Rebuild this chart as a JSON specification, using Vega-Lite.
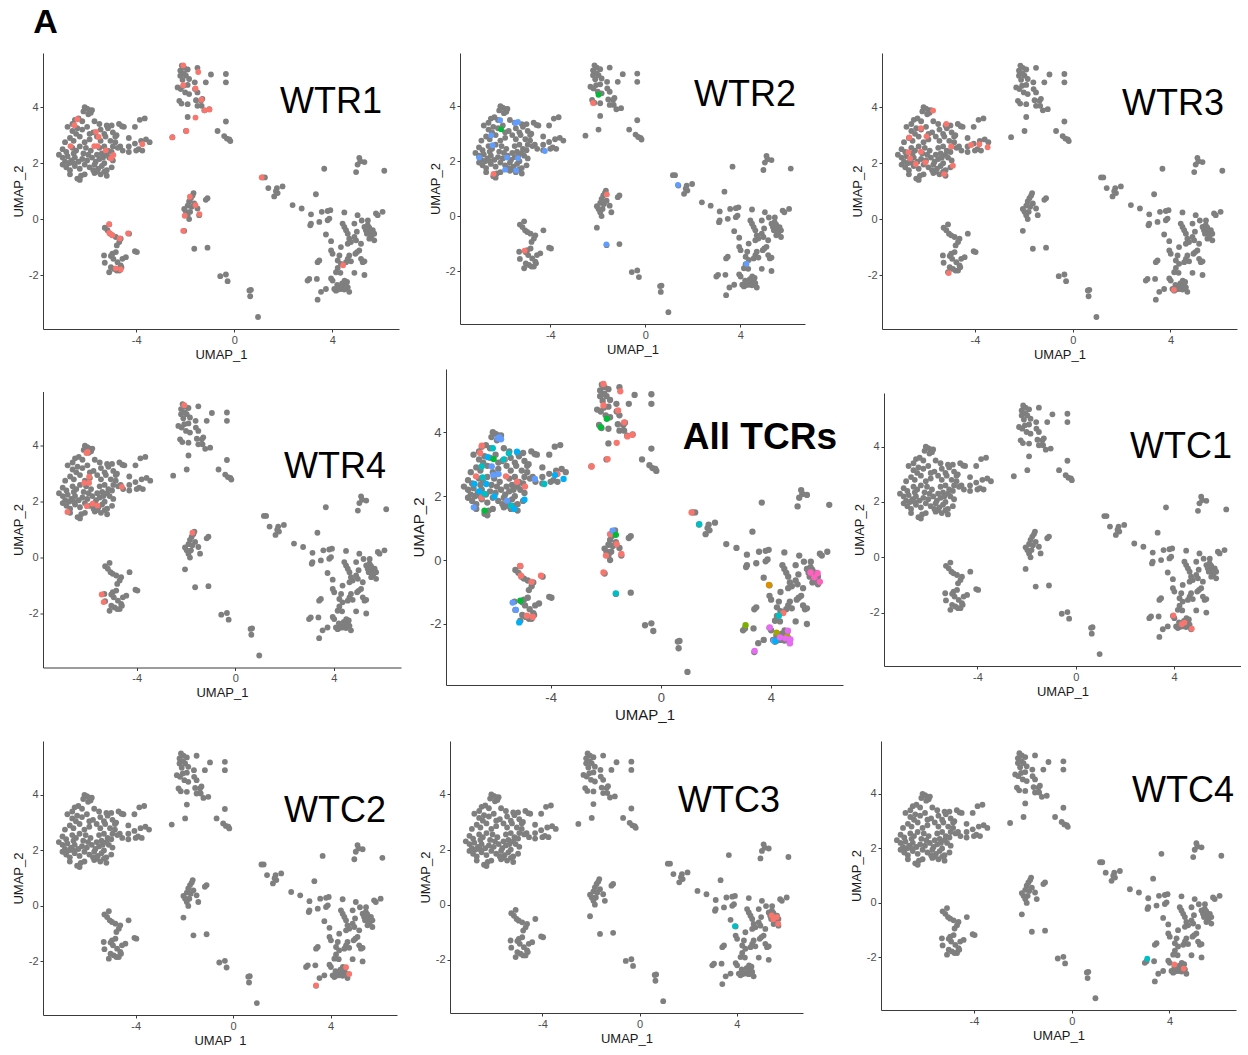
{
"$schema":"https://vega.github.io/schema/vega-lite/v6.json",
"background":"white",
"padding":{"left":12,"top":6,"right":0,"bottom":0},
"title":{"text":"A","anchor":"start","fontSize":34,"fontWeight":"bold","font":"Liberation Sans","offset":13,"dx":21,"color":"#000"},
"config":{"view":{"stroke":null},"axis":{"grid":false,"domainColor":"#3a3a3a","domainWidth":1,"tickColor":"#3a3a3a","tickSize":3,"labelFont":"Liberation Sans","labelFontSize":11,"labelColor":"#4d4d4d","titleFont":"Liberation Sans","titleFontSize":13,"titleFontWeight":"normal","titleColor":"#1a1a1a","labelPadding":2,"titlePadding":3}},
"datasets":{
"cells":[
{"x":-2.14,"y":5.49},{"x":-2.04,"y":5.41},{"x":-2.2,"y":5.31},{"x":-1.9,"y":5.35},{"x":-1.5,"y":5.41},{"x":-0.95,"y":5.17},{"x":-0.34,"y":5.19},{"x":-0.34,"y":4.89},{"x":-2.2,"y":5.13},{"x":-1.97,"y":5.13},{"x":-2.11,"y":4.98},{"x":-1.84,"y":5.01},{"x":-1.61,"y":4.89},{"x":-1.16,"y":4.89},{"x":-2.07,"y":4.77},{"x":-1.9,"y":4.8},{"x":-2.31,"y":4.71},{"x":-2.18,"y":4.65},{"x":-2.0,"y":4.53},{"x":-1.84,"y":4.47},{"x":-1.5,"y":4.53},{"x":-2.24,"y":4.23},{"x":-2.15,"y":4.13},{"x":-1.9,"y":4.11},{"x":-1.56,"y":4.25},{"x":-1.36,"y":4.23},{"x":-1.33,"y":4.05},{"x":-1.5,"y":4.05},{"x":-1.22,"y":3.89},{"x":-1.02,"y":3.93},{"x":-1.9,"y":3.65},{"x":-1.97,"y":3.15},{"x":-2.52,"y":2.93},{"x":-0.68,"y":3.15},{"x":-0.34,"y":3.49},{"x":-0.41,"y":2.97},{"x":-0.3,"y":2.88},{"x":-0.2,"y":2.85},{"x":-0.16,"y":2.79},{"x":-1.6,"y":4.65},{"x":-1.3,"y":4.3},{"x":-2.05,"y":5.2},
{"x":-1.66,"y":0.93},{"x":-1.7,"y":0.84},{"x":-1.77,"y":0.75},{"x":-1.84,"y":0.63},{"x":-1.63,"y":0.56},{"x":-1.9,"y":0.48},{"x":-1.74,"y":0.44},{"x":-2.04,"y":0.36},{"x":-1.97,"y":0.26},{"x":-1.8,"y":0.26},{"x":-1.5,"y":0.38},{"x":-1.9,"y":0.14},{"x":-1.84,"y":0.0},{"x":-1.43,"y":0.14},{"x":-1.09,"y":0.75},{"x":-1.16,"y":0.69},{"x":-2.04,"y":-0.42},{"x":-1.63,"y":-1.06},{"x":-1.09,"y":-1.02},
{"x":-5.28,"y":-0.31},{"x":-5.1,"y":-0.19},{"x":-5.17,"y":-0.4},{"x":-5.06,"y":-0.52},{"x":-4.97,"y":-0.58},{"x":-4.83,"y":-0.64},{"x":-4.63,"y":-0.7},{"x":-4.69,"y":-0.82},{"x":-4.29,"y":-0.52},{"x":-4.79,"y":-0.94},{"x":-4.83,"y":-1.18},{"x":-4.97,"y":-1.24},{"x":-5.03,"y":-1.32},{"x":-5.31,"y":-1.3},{"x":-5.28,"y":-1.56},{"x":-4.93,"y":-1.42},{"x":-4.76,"y":-1.54},{"x":-4.56,"y":-1.42},{"x":-4.42,"y":-1.36},{"x":-4.63,"y":-1.66},{"x":-5.03,"y":-1.72},{"x":-5.1,"y":-1.9},{"x":-4.9,"y":-1.78},{"x":-4.79,"y":-1.84},{"x":-4.69,"y":-1.84},{"x":-4.6,"y":-1.72},{"x":-4.05,"y":-1.15},{"x":-3.97,"y":-1.18},
{"x":-0.57,"y":-2.04},{"x":-0.34,"y":-1.98},{"x":-0.27,"y":-2.22},{"x":0.68,"y":-2.53},{"x":0.62,"y":-2.55},{"x":0.65,"y":-2.76},{"x":0.97,"y":-3.5},
{"x":1.16,"y":1.49},{"x":1.25,"y":1.49},{"x":1.39,"y":1.11},{"x":1.63,"y":0.81},{"x":1.77,"y":0.93},{"x":1.74,"y":1.11},{"x":1.97,"y":1.17},{"x":2.38,"y":0.5},{"x":2.75,"y":0.38},{"x":1.7,"y":1.0},
{"x":3.33,"y":0.89},{"x":3.67,"y":1.8},{"x":5.1,"y":2.19},{"x":5.14,"y":2.07},{"x":5.03,"y":1.95},{"x":5.31,"y":2.04},{"x":4.97,"y":1.68},{"x":6.12,"y":1.73},
{"x":3.13,"y":0.17},{"x":3.1,"y":-0.22},{"x":3.13,"y":-0.16},{"x":3.47,"y":-0.1},{"x":3.57,"y":0.26},{"x":3.81,"y":0.29},{"x":3.92,"y":0.32},{"x":3.81,"y":-0.04},{"x":3.88,"y":0.02},{"x":3.74,"y":-0.55},{"x":3.95,"y":-0.79},{"x":4.49,"y":0.24},{"x":5.03,"y":0.14},{"x":5.78,"y":0.2},{"x":5.85,"y":0.14},{"x":6.05,"y":0.26},
{"x":4.42,"y":-0.16},{"x":4.49,"y":-0.28},{"x":4.56,"y":-0.4},{"x":4.63,"y":-0.52},{"x":4.9,"y":-0.16},{"x":4.69,"y":-0.7},{"x":4.76,"y":-0.82},{"x":4.63,"y":-0.88},{"x":4.9,"y":-0.64},{"x":4.97,"y":-0.76},{"x":5.17,"y":-0.88},
{"x":5.31,"y":-0.28},{"x":5.37,"y":-0.4},{"x":5.44,"y":-0.22},{"x":5.51,"y":-0.34},{"x":5.58,"y":-0.46},{"x":5.65,"y":-0.4},{"x":5.71,"y":-0.52},{"x":5.55,"y":-0.55},{"x":5.41,"y":-0.52},{"x":5.71,"y":-0.76},
{"x":5.1,"y":-1.12},{"x":5.01,"y":-1.18},{"x":4.94,"y":-1.24},{"x":4.69,"y":-1.3},{"x":4.63,"y":-1.42},{"x":4.56,"y":-1.54},{"x":4.76,"y":-1.51},{"x":5.17,"y":-1.42},{"x":5.24,"y":-1.54},{"x":5.31,"y":-1.51},
{"x":4.29,"y":-1.3},{"x":4.22,"y":-1.48},{"x":4.35,"y":-1.6},{"x":4.22,"y":-1.75},{"x":4.15,"y":-1.9},{"x":4.33,"y":-1.92},{"x":3.47,"y":-1.48},{"x":3.4,"y":-1.54},{"x":3.06,"y":-2.14},{"x":2.99,"y":-2.2},{"x":3.37,"y":-2.14},{"x":3.95,"y":-2.12},{"x":4.01,"y":-2.2},
{"x":4.08,"y":-2.5},{"x":4.15,"y":-2.56},{"x":4.22,"y":-2.52},{"x":4.29,"y":-2.48},{"x":4.35,"y":-2.5},{"x":4.42,"y":-2.44},{"x":4.49,"y":-2.52},{"x":4.56,"y":-2.38},{"x":4.63,"y":-2.44},{"x":4.69,"y":-2.6},{"x":4.9,"y":-1.92},{"x":5.31,"y":-2.0},{"x":3.54,"y":-2.6},{"x":3.74,"y":-2.5},{"x":3.4,"y":-2.88},{"x":3.95,"y":-1.12},{"x":4.01,"y":-1.24},{"x":4.35,"y":-1.0},{"x":5.51,"y":-0.7},{"x":5.6,"y":-0.6},{"x":5.5,"y":-0.3},
{"x":4.4,"y":-2.3},{"x":4.5,"y":-2.2},{"x":4.6,"y":-2.25},{"x":4.2,"y":-2.35},{"x":5.0,"y":-0.45},{"x":5.2,"y":-0.05},{"x":5.45,"y":-0.05},
{"x":-6.1,"y":4.0},{"x":-6.0,"y":3.95},{"x":-5.9,"y":3.9},{"x":-5.85,"y":3.8},{"x":-6.15,"y":3.85},{"x":-5.95,"y":3.75},{"x":-5.8,"y":3.9},
{"x":-6.5,"y":3.55},{"x":-6.35,"y":3.6},{"x":-6.2,"y":3.5},{"x":-6.6,"y":3.4},{"x":-5.7,"y":3.5},{"x":-5.5,"y":3.4},{"x":-5.2,"y":3.35},{"x":-5.0,"y":3.35},{"x":-4.7,"y":3.4},{"x":-4.5,"y":3.3},{"x":-4.58,"y":3.32},
{"x":-6.8,"y":3.3},{"x":-6.6,"y":3.15},{"x":-6.4,"y":3.25},{"x":-6.2,"y":3.2},{"x":-6.0,"y":3.3},{"x":-5.75,"y":3.1},{"x":-5.45,"y":3.2},{"x":-5.3,"y":3.05},{"x":-5.15,"y":3.25},{"x":-4.95,"y":3.1},{"x":-4.8,"y":3.0},{"x":-4.3,"y":2.9},{"x":-4.05,"y":3.3},{"x":-3.85,"y":3.55},{"x":-3.65,"y":3.6},
{"x":-6.9,"y":2.75},{"x":-6.7,"y":2.9},{"x":-6.55,"y":2.8},{"x":-6.3,"y":2.95},{"x":-6.1,"y":2.75},{"x":-5.9,"y":2.85},{"x":-5.6,"y":2.95},{"x":-5.45,"y":2.8},{"x":-5.25,"y":2.95},{"x":-5.05,"y":2.8},{"x":-4.85,"y":2.75},{"x":-4.65,"y":2.6},{"x":-4.3,"y":2.6},{"x":-4.05,"y":2.7},{"x":-3.8,"y":2.8},{"x":-3.6,"y":2.85},{"x":-3.45,"y":2.75},{"x":-3.9,"y":2.5},
{"x":-7.0,"y":2.5},{"x":-6.85,"y":2.4},{"x":-6.6,"y":2.55},{"x":-6.45,"y":2.45},{"x":-6.3,"y":2.6},{"x":-6.05,"y":2.55},{"x":-5.85,"y":2.45},{"x":-5.5,"y":2.55},{"x":-5.3,"y":2.6},{"x":-5.15,"y":2.45},{"x":-4.95,"y":2.6},{"x":-4.75,"y":2.55},{"x":-4.55,"y":2.45},{"x":-4.3,"y":2.4},{"x":-4.0,"y":2.45},{"x":-3.75,"y":2.45},
{"x":-7.15,"y":2.3},{"x":-7.0,"y":2.2},{"x":-6.8,"y":2.25},{"x":-6.65,"y":2.1},{"x":-6.5,"y":2.2},{"x":-6.35,"y":2.05},{"x":-6.2,"y":2.15},{"x":-6.0,"y":2.1},{"x":-5.8,"y":2.2},{"x":-5.65,"y":2.05},{"x":-5.5,"y":2.15},{"x":-5.3,"y":2.0},{"x":-5.1,"y":2.2},{"x":-4.95,"y":2.1},{"x":-5.2,"y":2.3},
{"x":-7.0,"y":1.95},{"x":-6.85,"y":1.85},{"x":-6.7,"y":1.75},{"x":-6.5,"y":1.9},{"x":-6.3,"y":1.8},{"x":-6.1,"y":1.95},{"x":-5.9,"y":1.85},{"x":-5.7,"y":1.95},{"x":-5.55,"y":1.8},{"x":-5.4,"y":1.9},{"x":-5.2,"y":1.75},{"x":-5.0,"y":1.85},{"x":-5.3,"y":1.7},{"x":-5.6,"y":1.7},
{"x":-6.7,"y":1.6},{"x":-6.4,"y":1.45},{"x":-6.25,"y":1.55},{"x":-6.1,"y":1.6},{"x":-5.7,"y":1.65},{"x":-5.45,"y":1.6},{"x":-5.2,"y":1.55},{"x":-6.3,"y":1.4},
{"x":-6.9,"y":2.05},{"x":-6.75,"y":2.0},{"x":-6.55,"y":2.35},{"x":-6.15,"y":2.35},{"x":-5.95,"y":2.3},{"x":-5.6,"y":2.3},{"x":-5.4,"y":2.35},{"x":-5.0,"y":2.4},{"x":-4.85,"y":2.95},{"x":-5.9,"y":3.05},{"x":-6.45,"y":3.05},{"x":-5.35,"y":2.2},{"x":-6.55,"y":2.0},{"x":-5.75,"y":1.75}
],
"tcr":[
{"p":"WTR1","x":-2.08,"y":5.5,"c":"c1"},{"p":"WTR1","x":-1.47,"y":5.26,"c":"c1"},{"p":"WTR1","x":-2.08,"y":4.79,"c":"c1"},{"p":"WTR1","x":-1.58,"y":4.67,"c":"c1"},{"p":"WTR1","x":-1.34,"y":4.27,"c":"c1"},{"p":"WTR1","x":-1.2,"y":3.89,"c":"c1"},{"p":"WTR1","x":-1.01,"y":3.92,"c":"c1"},{"p":"WTR1","x":-1.58,"y":3.63,"c":"c1"},{"p":"WTR1","x":-1.95,"y":3.15,"c":"c1"},{"p":"WTR1","x":-2.53,"y":2.92,"c":"c1"},{"p":"WTR1","x":-6.52,"y":3.36,"c":"c1"},{"p":"WTR1","x":-6.4,"y":3.57,"c":"c1"},{"p":"WTR1","x":-5.64,"y":3.12,"c":"c1"},{"p":"WTR1","x":-5.53,"y":2.94,"c":"c1"},{"p":"WTR1","x":-6.68,"y":2.61,"c":"c1"},{"p":"WTR1","x":-5.71,"y":2.61,"c":"c1"},{"p":"WTR1","x":-5.58,"y":2.61,"c":"c1"},{"p":"WTR1","x":-5.24,"y":2.46,"c":"c1"},{"p":"WTR1","x":-4.93,"y":2.29,"c":"c1"},{"p":"WTR1","x":-5.03,"y":2.17,"c":"c1"},{"p":"WTR1","x":-3.75,"y":2.68,"c":"c1"},{"p":"WTR1","x":1.12,"y":1.49,"c":"c1"},{"p":"WTR1","x":-1.81,"y":0.8,"c":"c1"},{"p":"WTR1","x":-1.58,"y":0.5,"c":"c1"},{"p":"WTR1","x":-2.02,"y":0.12,"c":"c1"},{"p":"WTR1","x":-1.42,"y":0.18,"c":"c1"},{"p":"WTR1","x":-2.08,"y":-0.42,"c":"c1"},{"p":"WTR1","x":-5.1,"y":-0.18,"c":"c1"},{"p":"WTR1","x":-5.1,"y":-0.49,"c":"c1"},{"p":"WTR1","x":-4.97,"y":-0.57,"c":"c1"},{"p":"WTR1","x":-4.67,"y":-0.69,"c":"c1"},{"p":"WTR1","x":-4.33,"y":-0.51,"c":"c1"},{"p":"WTR1","x":-4.83,"y":-1.76,"c":"c1"},{"p":"WTR1","x":-4.63,"y":-1.8,"c":"c1"},{"p":"WTR1","x":4.44,"y":-1.65,"c":"c1"},
{"p":"WTR2","x":-6.11,"y":3.49,"c":"c8"},{"p":"WTR2","x":-6.49,"y":2.94,"c":"c8"},{"p":"WTR2","x":-6.43,"y":2.58,"c":"c8"},{"p":"WTR2","x":-7.0,"y":2.13,"c":"c8"},{"p":"WTR2","x":-5.47,"y":3.39,"c":"c8"},{"p":"WTR2","x":-5.36,"y":3.43,"c":"c8"},{"p":"WTR2","x":-5.9,"y":1.69,"c":"c8"},{"p":"WTR2","x":-5.82,"y":2.13,"c":"c8"},{"p":"WTR2","x":-5.36,"y":2.11,"c":"c8"},{"p":"WTR2","x":-5.44,"y":1.66,"c":"c8"},{"p":"WTR2","x":-4.23,"y":2.37,"c":"c8"},{"p":"WTR2","x":1.37,"y":1.14,"c":"c8"},{"p":"WTR2","x":-1.64,"y":-1.03,"c":"c8"},{"p":"WTR2","x":4.26,"y":-1.74,"c":"c8"},{"p":"WTR2","x":-6.07,"y":3.16,"c":"c5"},{"p":"WTR2","x":-1.97,"y":4.42,"c":"c5"},{"p":"WTR2","x":-6.39,"y":1.54,"c":"c1"},{"p":"WTR2","x":-2.2,"y":4.12,"c":"c1"},{"p":"WTR2","x":-1.62,"y":0.79,"c":"c1"},{"p":"WTR2","x":-5.08,"y":-1.26,"c":"c1"},
{"p":"WTR3","x":-5.71,"y":3.88,"c":"c1"},{"p":"WTR3","x":-5.17,"y":3.4,"c":"c1"},{"p":"WTR3","x":-6.21,"y":3.25,"c":"c1"},{"p":"WTR3","x":-6.68,"y":2.92,"c":"c1"},{"p":"WTR3","x":-5.98,"y":2.96,"c":"c1"},{"p":"WTR3","x":-6.72,"y":2.39,"c":"c1"},{"p":"WTR3","x":-6.65,"y":2.17,"c":"c1"},{"p":"WTR3","x":-6.21,"y":2.41,"c":"c1"},{"p":"WTR3","x":-6.42,"y":1.97,"c":"c1"},{"p":"WTR3","x":-6.02,"y":2.03,"c":"c1"},{"p":"WTR3","x":-4.97,"y":2.6,"c":"c1"},{"p":"WTR3","x":-4.9,"y":1.91,"c":"c1"},{"p":"WTR3","x":-5.26,"y":1.61,"c":"c1"},{"p":"WTR3","x":-4.16,"y":2.65,"c":"c1"},{"p":"WTR3","x":-3.82,"y":2.68,"c":"c1"},{"p":"WTR3","x":-3.48,"y":2.57,"c":"c1"},{"p":"WTR3","x":-5.07,"y":-1.93,"c":"c1"},{"p":"WTR3","x":4.14,"y":-2.53,"c":"c1"},
{"p":"WTR4","x":-5.99,"y":3.78,"c":"c1"},{"p":"WTR4","x":-6.04,"y":3.74,"c":"c1"},{"p":"WTR4","x":-5.93,"y":2.89,"c":"c1"},{"p":"WTR4","x":-6.13,"y":2.67,"c":"c1"},{"p":"WTR4","x":-5.93,"y":2.67,"c":"c1"},{"p":"WTR4","x":-4.6,"y":2.53,"c":"c1"},{"p":"WTR4","x":-6.81,"y":1.63,"c":"c1"},{"p":"WTR4","x":-6.02,"y":1.84,"c":"c1"},{"p":"WTR4","x":-5.79,"y":1.93,"c":"c1"},{"p":"WTR4","x":-5.59,"y":1.86,"c":"c1"},{"p":"WTR4","x":-1.74,"y":0.89,"c":"c1"},{"p":"WTR4","x":-2.07,"y":5.45,"c":"c1"},{"p":"WTR4","x":-5.42,"y":-1.32,"c":"c1"},{"p":"WTR4","x":-5.34,"y":-1.59,"c":"c1"},
{"p":"WTC1","x":3.97,"y":-2.1,"c":"c1"},{"p":"WTC1","x":4.31,"y":-2.42,"c":"c1"},{"p":"WTC1","x":4.42,"y":-2.36,"c":"c1"},{"p":"WTC1","x":4.72,"y":-2.58,"c":"c1"},
{"p":"WTC2","x":4.63,"y":-2.21,"c":"c1"},{"p":"WTC2","x":4.76,"y":-2.45,"c":"c1"},{"p":"WTC2","x":3.4,"y":-2.86,"c":"c1"},
{"p":"WTC3","x":5.43,"y":-0.39,"c":"c1"},{"p":"WTC3","x":5.5,"y":-0.53,"c":"c1"},{"p":"WTC3","x":5.64,"y":-0.45,"c":"c1"},{"p":"WTC3","x":5.7,"y":-0.69,"c":"c1"},{"p":"WTC3","x":3.92,"y":-0.78,"c":"c6"},
{"p":"WTC4","x":4.2,"y":-2.26,"c":"c1"},{"p":"WTC4","x":4.58,"y":-2.41,"c":"c1"},{"p":"WTC4","x":3.09,"y":-2.05,"c":"c6"},
{"p":"ALL","x":-2.08,"y":5.51,"c":"c1"},{"p":"ALL","x":-1.47,"y":5.28,"c":"c1"},{"p":"ALL","x":-2.08,"y":4.84,"c":"c1"},{"p":"ALL","x":-1.55,"y":4.68,"c":"c1"},{"p":"ALL","x":-1.33,"y":4.31,"c":"c1"},{"p":"ALL","x":-1.21,"y":3.87,"c":"c1"},{"p":"ALL","x":-1.03,"y":3.92,"c":"c1"},{"p":"ALL","x":-1.6,"y":3.67,"c":"c1"},{"p":"ALL","x":-1.93,"y":3.16,"c":"c1"},{"p":"ALL","x":-2.51,"y":2.93,"c":"c1"},{"p":"ALL","x":-6.56,"y":3.35,"c":"c1"},{"p":"ALL","x":-6.5,"y":3.58,"c":"c1"},{"p":"ALL","x":-5.66,"y":3.14,"c":"c1"},{"p":"ALL","x":-6.71,"y":2.62,"c":"c1"},{"p":"ALL","x":-5.62,"y":2.62,"c":"c1"},{"p":"ALL","x":-5.22,"y":2.45,"c":"c1"},{"p":"ALL","x":-4.93,"y":2.3,"c":"c1"},{"p":"ALL","x":-6.5,"y":1.96,"c":"c1"},{"p":"ALL","x":-3.75,"y":2.69,"c":"c1"},{"p":"ALL","x":1.12,"y":1.49,"c":"c1"},{"p":"ALL","x":-1.84,"y":0.81,"c":"c1"},{"p":"ALL","x":-1.6,"y":0.5,"c":"c1"},{"p":"ALL","x":-1.99,"y":0.14,"c":"c1"},{"p":"ALL","x":-1.43,"y":0.19,"c":"c1"},{"p":"ALL","x":-2.08,"y":-0.39,"c":"c1"},{"p":"ALL","x":-5.11,"y":-0.18,"c":"c1"},{"p":"ALL","x":-5.08,"y":-0.49,"c":"c1"},{"p":"ALL","x":-4.69,"y":-0.68,"c":"c1"},{"p":"ALL","x":-4.35,"y":-0.49,"c":"c1"},{"p":"ALL","x":-4.86,"y":-1.74,"c":"c1"},{"p":"ALL","x":-4.65,"y":-1.78,"c":"c1"},{"p":"ALL","x":4.45,"y":-1.66,"c":"c1"},
{"p":"ALL","x":-5.92,"y":3.81,"c":"c8"},{"p":"ALL","x":-5.86,"y":3.84,"c":"c8"},{"p":"ALL","x":-5.8,"y":3.78,"c":"c8"},{"p":"ALL","x":-6.14,"y":2.93,"c":"c8"},{"p":"ALL","x":-6.08,"y":2.66,"c":"c8"},{"p":"ALL","x":-5.89,"y":2.69,"c":"c8"},{"p":"ALL","x":-6.79,"y":1.65,"c":"c8"},{"p":"ALL","x":-5.58,"y":1.86,"c":"c8"},{"p":"ALL","x":-4.57,"y":2.54,"c":"c8"},{"p":"ALL","x":-5.38,"y":-1.33,"c":"c8"},{"p":"ALL","x":-5.26,"y":-1.56,"c":"c8"},{"p":"ALL","x":-1.75,"y":0.92,"c":"c8"},{"p":"ALL","x":4.11,"y":-2.53,"c":"c8"},
{"p":"ALL","x":-6.5,"y":2.93,"c":"c6"},{"p":"ALL","x":-6.1,"y":3.5,"c":"c6"},{"p":"ALL","x":-5.52,"y":3.34,"c":"c6"},{"p":"ALL","x":-6.47,"y":2.59,"c":"c6"},{"p":"ALL","x":-5.44,"y":1.7,"c":"c6"},{"p":"ALL","x":-4.23,"y":2.38,"c":"c6"},{"p":"ALL","x":1.4,"y":1.12,"c":"c6"},{"p":"ALL","x":-1.63,"y":-1.04,"c":"c6"},{"p":"ALL","x":4.29,"y":-1.74,"c":"c6"},{"p":"ALL","x":-6.4,"y":2.07,"c":"c6"},{"p":"ALL","x":-5.7,"y":3.15,"c":"c6"},
{"p":"ALL","x":-6.77,"y":2.38,"c":"c7"},{"p":"ALL","x":-6.28,"y":3.22,"c":"c7"},{"p":"ALL","x":-5.22,"y":3.39,"c":"c7"},{"p":"ALL","x":-6.34,"y":2.38,"c":"c7"},{"p":"ALL","x":-6.04,"y":1.99,"c":"c7"},{"p":"ALL","x":-5.32,"y":1.6,"c":"c7"},{"p":"ALL","x":-4.95,"y":1.89,"c":"c7"},{"p":"ALL","x":-3.84,"y":2.66,"c":"c7"},{"p":"ALL","x":-3.53,"y":2.54,"c":"c7"},{"p":"ALL","x":-5.14,"y":-1.95,"c":"c7"},{"p":"ALL","x":4.17,"y":-2.53,"c":"c7"},{"p":"ALL","x":-6.6,"y":2.15,"c":"c7"},
{"p":"ALL","x":-6.07,"y":3.16,"c":"c5"},{"p":"ALL","x":-6.4,"y":1.55,"c":"c5"},{"p":"ALL","x":-2.18,"y":4.16,"c":"c5"},{"p":"ALL","x":-1.96,"y":4.42,"c":"c5"},{"p":"ALL","x":-1.63,"y":0.79,"c":"c5"},{"p":"ALL","x":-5.1,"y":-1.27,"c":"c5"},
{"p":"ALL","x":3.93,"y":-0.78,"c":"c2"},{"p":"ALL","x":4.21,"y":-2.27,"c":"c3"},{"p":"ALL","x":4.59,"y":-2.39,"c":"c3"},{"p":"ALL","x":3.08,"y":-2.04,"c":"c4"},
{"p":"ALL","x":3.96,"y":-2.11,"c":"c9"},{"p":"ALL","x":4.33,"y":-2.42,"c":"c9"},{"p":"ALL","x":4.62,"y":-2.21,"c":"c9"},{"p":"ALL","x":4.71,"y":-2.48,"c":"c9"},{"p":"ALL","x":4.69,"y":-2.6,"c":"c9"},{"p":"ALL","x":3.41,"y":-2.84,"c":"c9"},{"p":"ALL","x":4.53,"y":-2.45,"c":"c9"},
{"p":"ALL","x":5.44,"y":-0.39,"c":"c10"},{"p":"ALL","x":5.58,"y":-0.54,"c":"c10"},{"p":"ALL","x":5.7,"y":-0.41,"c":"c10"},{"p":"ALL","x":5.78,"y":-0.68,"c":"c10"}
]
},
"vconcat":[
{"vconcat":[
{"hconcat":[
{"hconcat":[
{"width":356,"height":276,
"title":{"text":"WTR1","orient":"top","anchor":"end","frame":"group","offset":-96,"dx":-17,"baseline":"alphabetic","fontSize":36,"fontWeight":"normal","font":"Liberation Sans","color":"#000"},
"layer":[
{"data":{"name":"cells"},"mark":{"type":"circle","size":34,"opacity":1,"color":"#7F7F7F"},"encoding":{"x":{"field":"x","type":"quantitative","scale":{"domain":[-7.8,6.72],"nice":false,"zero":false},"axis":{"title":"UMAP_1","values":[-4,0,4],"labelExpr":"''+datum.value"}},"y":{"field":"y","type":"quantitative","scale":{"domain":[-3.93,5.94],"nice":false,"zero":false},"axis":{"title":"UMAP_2","values":[-2,0,2,4],"labelExpr":"''+datum.value"}}}},
{"data":{"name":"tcr"},"transform":[{"filter":"datum.p === 'WTR1'"}],"mark":{"type":"circle","size":34,"opacity":1},"encoding":{"x":{"field":"x","type":"quantitative"},"y":{"field":"y","type":"quantitative"},"color":{"field":"c","type":"nominal","scale":{"domain":["c1","c2","c3","c4","c5","c6","c7","c8","c9","c10"],"range":["#F8766D","#D89000","#A3A500","#7CAE00","#00BA38","#00BFC4","#00B0F6","#619CFF","#E76BF3","#FF62BC"]},"legend":null}}}
]},
{"width":345,"height":271,
"title":{"text":"WTR2","orient":"top","anchor":"end","frame":"group","offset":-89,"dx":-9,"baseline":"alphabetic","fontSize":36,"fontWeight":"normal","font":"Liberation Sans","color":"#000"},
"layer":[
{"data":{"name":"cells"},"mark":{"type":"circle","size":34,"opacity":1,"color":"#7F7F7F"},"encoding":{"x":{"field":"x","type":"quantitative","scale":{"domain":[-7.8,6.72],"nice":false,"zero":false},"axis":{"title":"UMAP_1","values":[-4,0,4],"labelExpr":"''+datum.value"}},"y":{"field":"y","type":"quantitative","scale":{"domain":[-3.93,5.94],"nice":false,"zero":false},"axis":{"title":"UMAP_2","values":[-2,0,2,4],"labelExpr":"''+datum.value"}}}},
{"data":{"name":"tcr"},"transform":[{"filter":"datum.p === 'WTR2'"}],"mark":{"type":"circle","size":34,"opacity":1},"encoding":{"x":{"field":"x","type":"quantitative"},"y":{"field":"y","type":"quantitative"},"color":{"field":"c","type":"nominal","scale":{"domain":["c1","c2","c3","c4","c5","c6","c7","c8","c9","c10"],"range":["#F8766D","#D89000","#A3A500","#7CAE00","#00BA38","#00BFC4","#00B0F6","#619CFF","#E76BF3","#FF62BC"]},"legend":null}}}
]}
],"spacing":30},
{"width":355,"height":276,
"title":{"text":"WTR3","orient":"top","anchor":"end","frame":"group","offset":-98,"dx":-13,"baseline":"alphabetic","fontSize":36,"fontWeight":"normal","font":"Liberation Sans","color":"#000"},
"layer":[
{"data":{"name":"cells"},"mark":{"type":"circle","size":34,"opacity":1,"color":"#7F7F7F"},"encoding":{"x":{"field":"x","type":"quantitative","scale":{"domain":[-7.8,6.72],"nice":false,"zero":false},"axis":{"title":"UMAP_1","values":[-4,0,4],"labelExpr":"''+datum.value"}},"y":{"field":"y","type":"quantitative","scale":{"domain":[-3.93,5.94],"nice":false,"zero":false},"axis":{"title":"UMAP_2","values":[-2,0,2,4],"labelExpr":"''+datum.value"}}}},
{"data":{"name":"tcr"},"transform":[{"filter":"datum.p === 'WTR3'"}],"mark":{"type":"circle","size":34,"opacity":1},"encoding":{"x":{"field":"x","type":"quantitative"},"y":{"field":"y","type":"quantitative"},"color":{"field":"c","type":"nominal","scale":{"domain":["c1","c2","c3","c4","c5","c6","c7","c8","c9","c10"],"range":["#F8766D","#D89000","#A3A500","#7CAE00","#00BA38","#00BFC4","#00B0F6","#619CFF","#E76BF3","#FF62BC"]},"legend":null}}}
]}
],"spacing":46},
{"hconcat":[
{"width":358,"height":276,
"title":{"text":"WTR4","orient":"top","anchor":"end","frame":"group","offset":-122,"dx":-15,"baseline":"alphabetic","fontSize":36,"fontWeight":"normal","font":"Liberation Sans","color":"#000"},
"layer":[
{"data":{"name":"cells"},"mark":{"type":"circle","size":34,"opacity":1,"color":"#7F7F7F"},"encoding":{"x":{"field":"x","type":"quantitative","scale":{"domain":[-7.8,6.72],"nice":false,"zero":false},"axis":{"title":"UMAP_1","values":[-4,0,4],"labelExpr":"''+datum.value"}},"y":{"field":"y","type":"quantitative","scale":{"domain":[-3.93,5.94],"nice":false,"zero":false},"axis":{"title":"UMAP_2","values":[-2,0,2,4],"labelExpr":"''+datum.value"}}}},
{"data":{"name":"tcr"},"transform":[{"filter":"datum.p === 'WTR4'"}],"mark":{"type":"circle","size":34,"opacity":1},"encoding":{"x":{"field":"x","type":"quantitative"},"y":{"field":"y","type":"quantitative"},"color":{"field":"c","type":"nominal","scale":{"domain":["c1","c2","c3","c4","c5","c6","c7","c8","c9","c10"],"range":["#F8766D","#D89000","#A3A500","#7CAE00","#00BA38","#00BFC4","#00B0F6","#619CFF","#E76BF3","#FF62BC"]},"legend":null}}}
]},
{"width":397,"height":316,
"title":{"text":"All TCRs","orient":"top","anchor":"end","frame":"group","offset":-117,"dx":-6,"baseline":"alphabetic","fontSize":37,"fontWeight":"bold","font":"Liberation Sans","color":"#000"},
"layer":[
{"data":{"name":"cells"},"mark":{"type":"circle","size":40,"opacity":1,"color":"#7F7F7F"},"encoding":{"x":{"field":"x","type":"quantitative","scale":{"domain":[-7.8,6.62],"nice":false,"zero":false},"axis":{"title":"UMAP_1","values":[-4,0,4],"labelExpr":"''+datum.value","labelFontSize":13,"titleFontSize":15,"labelPadding":3}},"y":{"field":"y","type":"quantitative","scale":{"domain":[-3.91,5.98],"nice":false,"zero":false},"axis":{"title":"UMAP_2","values":[-2,0,2,4],"labelExpr":"''+datum.value","labelFontSize":13,"titleFontSize":15}}}},
{"data":{"name":"tcr"},"transform":[{"filter":"datum.p === 'ALL'"}],"mark":{"type":"circle","size":40,"opacity":1},"encoding":{"x":{"field":"x","type":"quantitative"},"y":{"field":"y","type":"quantitative"},"color":{"field":"c","type":"nominal","scale":{"domain":["c1","c2","c3","c4","c5","c6","c7","c8","c9","c10"],"range":["#F8766D","#D89000","#A3A500","#7CAE00","#00BA38","#00BFC4","#00B0F6","#619CFF","#E76BF3","#FF62BC"]},"legend":null}}}
]},
{"width":357,"height":273,
"title":{"text":"WTC1","orient":"top","anchor":"end","frame":"group","offset":-101,"dx":-9,"baseline":"alphabetic","fontSize":36,"fontWeight":"normal","font":"Liberation Sans","color":"#000"},
"layer":[
{"data":{"name":"cells"},"mark":{"type":"circle","size":34,"opacity":1,"color":"#7F7F7F"},"encoding":{"x":{"field":"x","type":"quantitative","scale":{"domain":[-7.8,6.72],"nice":false,"zero":false},"axis":{"title":"UMAP_1","values":[-4,0,4],"labelExpr":"''+datum.value"}},"y":{"field":"y","type":"quantitative","scale":{"domain":[-3.93,5.94],"nice":false,"zero":false},"axis":{"title":"UMAP_2","values":[-2,0,2,4],"labelExpr":"''+datum.value"}}}},
{"data":{"name":"tcr"},"transform":[{"filter":"datum.p === 'WTC1'"}],"mark":{"type":"circle","size":34,"opacity":1},"encoding":{"x":{"field":"x","type":"quantitative"},"y":{"field":"y","type":"quantitative"},"color":{"field":"c","type":"nominal","scale":{"domain":["c1","c2","c3","c4","c5","c6","c7","c8","c9","c10"],"range":["#F8766D","#D89000","#A3A500","#7CAE00","#00BA38","#00BFC4","#00B0F6","#619CFF","#E76BF3","#FF62BC"]},"legend":null}}}
]}
],"spacing":10,"center":true}
],"spacing":8},
{"hconcat":[
{"hconcat":[
{"width":354,"height":274,
"title":{"text":"WTC2","orient":"top","anchor":"end","frame":"group","offset":-117,"dx":-11,"baseline":"alphabetic","fontSize":36,"fontWeight":"normal","font":"Liberation Sans","color":"#000"},
"layer":[
{"data":{"name":"cells"},"mark":{"type":"circle","size":34,"opacity":1,"color":"#7F7F7F"},"encoding":{"x":{"field":"x","type":"quantitative","scale":{"domain":[-7.8,6.72],"nice":false,"zero":false},"axis":{"title":"UMAP_1","values":[-4,0,4],"labelExpr":"''+datum.value"}},"y":{"field":"y","type":"quantitative","scale":{"domain":[-3.93,5.94],"nice":false,"zero":false},"axis":{"title":"UMAP_2","values":[-2,0,2,4],"labelExpr":"''+datum.value"}}}},
{"data":{"name":"tcr"},"transform":[{"filter":"datum.p === 'WTC2'"}],"mark":{"type":"circle","size":34,"opacity":1},"encoding":{"x":{"field":"x","type":"quantitative"},"y":{"field":"y","type":"quantitative"},"color":{"field":"c","type":"nominal","scale":{"domain":["c1","c2","c3","c4","c5","c6","c7","c8","c9","c10"],"range":["#F8766D","#D89000","#A3A500","#7CAE00","#00BA38","#00BFC4","#00B0F6","#619CFF","#E76BF3","#FF62BC"]},"legend":null}}}
]},
{"width":353,"height":272,
"title":{"text":"WTC3","orient":"top","anchor":"end","frame":"group","offset":-107,"dx":-23,"baseline":"alphabetic","fontSize":36,"fontWeight":"normal","font":"Liberation Sans","color":"#000"},
"layer":[
{"data":{"name":"cells"},"mark":{"type":"circle","size":34,"opacity":1,"color":"#7F7F7F"},"encoding":{"x":{"field":"x","type":"quantitative","scale":{"domain":[-7.8,6.72],"nice":false,"zero":false},"axis":{"title":"UMAP_1","values":[-4,0,4],"labelExpr":"''+datum.value"}},"y":{"field":"y","type":"quantitative","scale":{"domain":[-3.93,5.94],"nice":false,"zero":false},"axis":{"title":"UMAP_2","values":[-2,0,2,4],"labelExpr":"''+datum.value"}}}},
{"data":{"name":"tcr"},"transform":[{"filter":"datum.p === 'WTC3'"}],"mark":{"type":"circle","size":34,"opacity":1},"encoding":{"x":{"field":"x","type":"quantitative"},"y":{"field":"y","type":"quantitative"},"color":{"field":"c","type":"nominal","scale":{"domain":["c1","c2","c3","c4","c5","c6","c7","c8","c9","c10"],"range":["#F8766D","#D89000","#A3A500","#7CAE00","#00BA38","#00BFC4","#00B0F6","#619CFF","#E76BF3","#FF62BC"]},"legend":null}}}
]}
],"spacing":22},
{"width":355,"height":269,
"title":{"text":"WTC4","orient":"top","anchor":"end","frame":"group","offset":-97,"dx":-2,"baseline":"alphabetic","fontSize":36,"fontWeight":"normal","font":"Liberation Sans","color":"#000"},
"layer":[
{"data":{"name":"cells"},"mark":{"type":"circle","size":34,"opacity":1,"color":"#7F7F7F"},"encoding":{"x":{"field":"x","type":"quantitative","scale":{"domain":[-7.8,6.72],"nice":false,"zero":false},"axis":{"title":"UMAP_1","values":[-4,0,4],"labelExpr":"''+datum.value"}},"y":{"field":"y","type":"quantitative","scale":{"domain":[-3.93,5.94],"nice":false,"zero":false},"axis":{"title":"UMAP_2","values":[-2,0,2,4],"labelExpr":"''+datum.value"}}}},
{"data":{"name":"tcr"},"transform":[{"filter":"datum.p === 'WTC4'"}],"mark":{"type":"circle","size":34,"opacity":1},"encoding":{"x":{"field":"x","type":"quantitative"},"y":{"field":"y","type":"quantitative"},"color":{"field":"c","type":"nominal","scale":{"domain":["c1","c2","c3","c4","c5","c6","c7","c8","c9","c10"],"range":["#F8766D","#D89000","#A3A500","#7CAE00","#00BA38","#00BFC4","#00B0F6","#619CFF","#E76BF3","#FF62BC"]},"legend":null}}}
]}
],"spacing":47}
],"spacing":19
}
